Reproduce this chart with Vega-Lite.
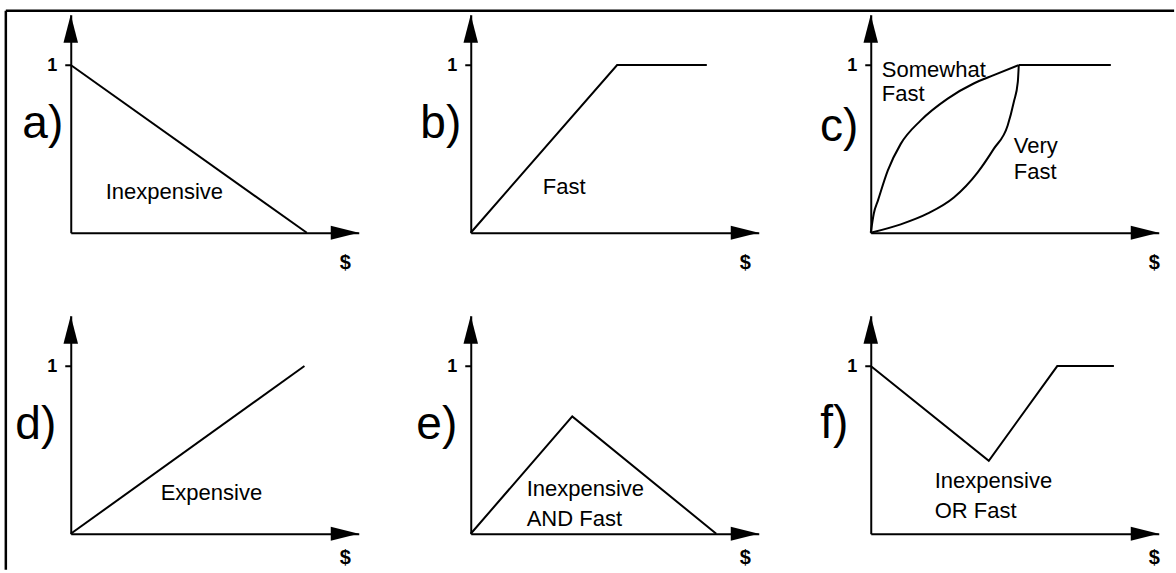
{
  "$schema": "https://vega.github.io/schema/vega-lite/v6.json",
  "background": "white",
  "padding": {"left": 3.75, "top": 8.75, "right": 0, "bottom": 0},
  "datasets": {
    "a": [
      {"series": "Inexpensive", "dollars": 0, "membership": 1},
      {"series": "Inexpensive", "dollars": 1.0, "membership": 0}
    ],
    "b": [
      {"series": "Fast", "dollars": 0, "membership": 0},
      {"series": "Fast", "dollars": 0.62, "membership": 1},
      {"series": "Fast", "dollars": 1.0, "membership": 1}
    ],
    "c": [
      {"series": "Somewhat Fast", "dollars": 0, "membership": 0},
      {"series": "Somewhat Fast", "dollars": 0.013, "membership": 0.115},
      {"series": "Somewhat Fast", "dollars": 0.03, "membership": 0.19},
      {"series": "Somewhat Fast", "dollars": 0.072, "membership": 0.37},
      {"series": "Somewhat Fast", "dollars": 0.127, "membership": 0.53},
      {"series": "Somewhat Fast", "dollars": 0.212, "membership": 0.67},
      {"series": "Somewhat Fast", "dollars": 0.326, "membership": 0.8},
      {"series": "Somewhat Fast", "dollars": 0.436, "membership": 0.89},
      {"series": "Somewhat Fast", "dollars": 0.521, "membership": 0.94},
      {"series": "Somewhat Fast", "dollars": 0.627, "membership": 1.0},
      {"series": "Very Fast", "dollars": 0, "membership": 0},
      {"series": "Very Fast", "dollars": 0.127, "membership": 0.05},
      {"series": "Very Fast", "dollars": 0.242, "membership": 0.115},
      {"series": "Very Fast", "dollars": 0.352, "membership": 0.21},
      {"series": "Very Fast", "dollars": 0.453, "membership": 0.36},
      {"series": "Very Fast", "dollars": 0.521, "membership": 0.5},
      {"series": "Very Fast", "dollars": 0.58, "membership": 0.64},
      {"series": "Very Fast", "dollars": 0.606, "membership": 0.78},
      {"series": "Very Fast", "dollars": 0.623, "membership": 0.9},
      {"series": "Very Fast", "dollars": 0.627, "membership": 1.0},
      {"series": "Fast plateau", "dollars": 0.627, "membership": 1.0},
      {"series": "Fast plateau", "dollars": 1.017, "membership": 1.0}
    ],
    "d": [
      {"series": "Expensive", "dollars": 0, "membership": 0},
      {"series": "Expensive", "dollars": 0.99, "membership": 1}
    ],
    "e": [
      {"series": "Inexpensive AND Fast", "dollars": 0, "membership": 0},
      {"series": "Inexpensive AND Fast", "dollars": 0.43, "membership": 0.7},
      {"series": "Inexpensive AND Fast", "dollars": 1.04, "membership": 0}
    ],
    "f": [
      {"series": "Inexpensive OR Fast", "dollars": 0, "membership": 1},
      {"series": "Inexpensive OR Fast", "dollars": 0.5, "membership": 0.435},
      {"series": "Inexpensive OR Fast", "dollars": 0.79, "membership": 1},
      {"series": "Inexpensive OR Fast", "dollars": 1.03, "membership": 1}
    ]
  },
  "columns": 3,
  "bounds": "flush",
  "spacing": {"row": 83, "column": 112},
  "concat": [
    {
      "width": 288, "height": 218,
      "layer": [
        {"data": {"name": "a"}, "mark": {"type": "line", "color": "black", "strokeWidth": 2},
         "encoding": {
           "x": {"field": "dollars", "type": "quantitative", "scale": {"domain": [0, 1.22], "nice": false},
                 "axis": {"title": "$", "ticks": false, "labels": false, "titleX": 274, "titleY": 30, "titleAlign": "center", "titleBaseline": "middle", "titleFontSize": 20, "titleFontWeight": "bold"}},
           "y": {"field": "membership", "type": "quantitative", "scale": {"domain": [0, 1.3], "nice": false},
                 "axis": {"values": [1], "format": "d", "tickSize": 6, "tickWidth": 2, "labelPadding": 8, "labelFontSize": 18, "labelFontWeight": "bold", "title": "a)", "titleAngle": 0, "titleAlign": "right", "titleBaseline": "alphabetic", "titleX": -8, "titleY": 123, "titleFontSize": 46, "titleFontWeight": "normal"}},
           "detail": {"field": "series"}
         }},
        {"data": {"values": [{}]}, "mark": {"type": "point", "shape": "M0,0L0.52,2L-0.52,2Z", "size": 784, "filled": true, "color": "black", "opacity": 1, "strokeWidth": 0}, "encoding": {"x": {"datum": 0}, "y": {"datum": 1.3}}},
        {"data": {"values": [{}]}, "mark": {"type": "point", "shape": "M0,0L-2,-0.5L-2,0.5Z", "size": 784, "filled": true, "color": "black", "opacity": 1, "strokeWidth": 0}, "encoding": {"x": {"datum": 1.22}, "y": {"datum": 0}}},
        {"data": {"values": [{}]}, "mark": {"type": "text"}, "encoding": {"x": {"datum": 0.148}, "y": {"datum": 0.203}, "text": {"value": "Inexpensive"}}},
        {"data": {"values": [{}]}, "mark": {"type": "rule", "strokeWidth": 2.5, "color": "black"}, "encoding": {"x": {"datum": -0.275}, "x2": {"datum": 4.674}, "y": {"datum": 1.324}}},
        {"data": {"values": [{}]}, "mark": {"type": "rule", "strokeWidth": 2.5, "color": "black"}, "encoding": {"x": {"datum": -0.275}, "y": {"datum": 1.324}, "y2": {"datum": -2.01}}}
      ]
    },
    {
      "width": 288, "height": 218,
      "layer": [
        {"data": {"name": "b"}, "mark": {"type": "line", "color": "black", "strokeWidth": 2},
         "encoding": {
           "x": {"field": "dollars", "type": "quantitative", "scale": {"domain": [0, 1.22], "nice": false},
                 "axis": {"title": "$", "ticks": false, "labels": false, "titleX": 274, "titleY": 30, "titleAlign": "center", "titleBaseline": "middle", "titleFontSize": 20, "titleFontWeight": "bold"}},
           "y": {"field": "membership", "type": "quantitative", "scale": {"domain": [0, 1.3], "nice": false},
                 "axis": {"values": [1], "format": "d", "tickSize": 6, "tickWidth": 2, "labelPadding": 8, "labelFontSize": 18, "labelFontWeight": "bold", "title": "b)", "titleAngle": 0, "titleAlign": "right", "titleBaseline": "alphabetic", "titleX": -10, "titleY": 123, "titleFontSize": 46, "titleFontWeight": "normal"}},
           "detail": {"field": "series"}
         }},
        {"data": {"values": [{}]}, "mark": {"type": "point", "shape": "M0,0L0.52,2L-0.52,2Z", "size": 784, "filled": true, "color": "black", "opacity": 1, "strokeWidth": 0}, "encoding": {"x": {"datum": 0}, "y": {"datum": 1.3}}},
        {"data": {"values": [{}]}, "mark": {"type": "point", "shape": "M0,0L-2,-0.5L-2,0.5Z", "size": 784, "filled": true, "color": "black", "opacity": 1, "strokeWidth": 0}, "encoding": {"x": {"datum": 1.22}, "y": {"datum": 0}}},
        {"data": {"values": [{}]}, "mark": {"type": "text"}, "encoding": {"x": {"datum": 0.305}, "y": {"datum": 0.233}, "text": {"value": "Fast"}}}
      ]
    },
    {
      "width": 288, "height": 218,
      "layer": [
        {"data": {"name": "c"}, "mark": {"type": "line", "color": "black", "strokeWidth": 2, "interpolate": "monotone"},
         "encoding": {
           "x": {"field": "dollars", "type": "quantitative", "scale": {"domain": [0, 1.22], "nice": false},
                 "axis": {"title": "$", "ticks": false, "labels": false, "titleX": 283, "titleY": 30, "titleAlign": "center", "titleBaseline": "middle", "titleFontSize": 20, "titleFontWeight": "bold"}},
           "y": {"field": "membership", "type": "quantitative", "scale": {"domain": [0, 1.3], "nice": false},
                 "axis": {"values": [1], "format": "d", "tickSize": 6, "tickWidth": 2, "labelPadding": 8, "labelFontSize": 18, "labelFontWeight": "bold", "title": "c)", "titleAngle": 0, "titleAlign": "right", "titleBaseline": "alphabetic", "titleX": -13, "titleY": 126, "titleFontSize": 46, "titleFontWeight": "normal"}},
           "detail": {"field": "series"}
         }},
        {"data": {"values": [{}]}, "mark": {"type": "point", "shape": "M0,0L0.52,2L-0.52,2Z", "size": 784, "filled": true, "color": "black", "opacity": 1, "strokeWidth": 0}, "encoding": {"x": {"datum": 0}, "y": {"datum": 1.3}}},
        {"data": {"values": [{}]}, "mark": {"type": "point", "shape": "M0,0L-2,-0.5L-2,0.5Z", "size": 784, "filled": true, "color": "black", "opacity": 1, "strokeWidth": 0}, "encoding": {"x": {"datum": 1.22}, "y": {"datum": 0}}},
        {"data": {"values": [{}]}, "mark": {"type": "text"}, "encoding": {"x": {"datum": 0.047}, "y": {"datum": 0.93}, "text": {"value": "Somewhat"}}},
        {"data": {"values": [{}]}, "mark": {"type": "text"}, "encoding": {"x": {"datum": 0.047}, "y": {"datum": 0.785}, "text": {"value": "Fast"}}},
        {"data": {"values": [{}]}, "mark": {"type": "text"}, "encoding": {"x": {"datum": 0.606}, "y": {"datum": 0.477}, "text": {"value": "Very"}}},
        {"data": {"values": [{}]}, "mark": {"type": "text"}, "encoding": {"x": {"datum": 0.606}, "y": {"datum": 0.322}, "text": {"value": "Fast"}}}
      ]
    },
    {
      "width": 288, "height": 218,
      "layer": [
        {"data": {"name": "d"}, "mark": {"type": "line", "color": "black", "strokeWidth": 2},
         "encoding": {
           "x": {"field": "dollars", "type": "quantitative", "scale": {"domain": [0, 1.22], "nice": false},
                 "axis": {"title": "$", "ticks": false, "labels": false, "titleX": 274, "titleY": 24, "titleAlign": "center", "titleBaseline": "middle", "titleFontSize": 20, "titleFontWeight": "bold"}},
           "y": {"field": "membership", "type": "quantitative", "scale": {"domain": [0, 1.3], "nice": false},
                 "axis": {"values": [1], "format": "d", "tickSize": 6, "tickWidth": 2, "labelPadding": 8, "labelFontSize": 18, "labelFontWeight": "bold", "title": "d)", "titleAngle": 0, "titleAlign": "right", "titleBaseline": "alphabetic", "titleX": -15, "titleY": 123, "titleFontSize": 46, "titleFontWeight": "normal"}},
           "detail": {"field": "series"}
         }},
        {"data": {"values": [{}]}, "mark": {"type": "point", "shape": "M0,0L0.52,2L-0.52,2Z", "size": 784, "filled": true, "color": "black", "opacity": 1, "strokeWidth": 0}, "encoding": {"x": {"datum": 0}, "y": {"datum": 1.3}}},
        {"data": {"values": [{}]}, "mark": {"type": "point", "shape": "M0,0L-2,-0.5L-2,0.5Z", "size": 784, "filled": true, "color": "black", "opacity": 1, "strokeWidth": 0}, "encoding": {"x": {"datum": 1.22}, "y": {"datum": 0}}},
        {"data": {"values": [{}]}, "mark": {"type": "text"}, "encoding": {"x": {"datum": 0.381}, "y": {"datum": 0.203}, "text": {"value": "Expensive"}}}
      ]
    },
    {
      "width": 288, "height": 218,
      "layer": [
        {"data": {"name": "e"}, "mark": {"type": "line", "color": "black", "strokeWidth": 2},
         "encoding": {
           "x": {"field": "dollars", "type": "quantitative", "scale": {"domain": [0, 1.22], "nice": false},
                 "axis": {"title": "$", "ticks": false, "labels": false, "titleX": 274, "titleY": 24, "titleAlign": "center", "titleBaseline": "middle", "titleFontSize": 20, "titleFontWeight": "bold"}},
           "y": {"field": "membership", "type": "quantitative", "scale": {"domain": [0, 1.3], "nice": false},
                 "axis": {"values": [1], "format": "d", "tickSize": 6, "tickWidth": 2, "labelPadding": 8, "labelFontSize": 18, "labelFontWeight": "bold", "title": "e)", "titleAngle": 0, "titleAlign": "right", "titleBaseline": "alphabetic", "titleX": -14, "titleY": 123, "titleFontSize": 46, "titleFontWeight": "normal"}},
           "detail": {"field": "series"}
         }},
        {"data": {"values": [{}]}, "mark": {"type": "point", "shape": "M0,0L0.52,2L-0.52,2Z", "size": 784, "filled": true, "color": "black", "opacity": 1, "strokeWidth": 0}, "encoding": {"x": {"datum": 0}, "y": {"datum": 1.3}}},
        {"data": {"values": [{}]}, "mark": {"type": "point", "shape": "M0,0L-2,-0.5L-2,0.5Z", "size": 784, "filled": true, "color": "black", "opacity": 1, "strokeWidth": 0}, "encoding": {"x": {"datum": 1.22}, "y": {"datum": 0}}},
        {"data": {"values": [{}]}, "mark": {"type": "text"}, "encoding": {"x": {"datum": 0.237}, "y": {"datum": 0.227}, "text": {"value": "Inexpensive"}}},
        {"data": {"values": [{}]}, "mark": {"type": "text"}, "encoding": {"x": {"datum": 0.237}, "y": {"datum": 0.048}, "text": {"value": "AND Fast"}}}
      ]
    },
    {
      "width": 288, "height": 218,
      "layer": [
        {"data": {"name": "f"}, "mark": {"type": "line", "color": "black", "strokeWidth": 2},
         "encoding": {
           "x": {"field": "dollars", "type": "quantitative", "scale": {"domain": [0, 1.22], "nice": false},
                 "axis": {"title": "$", "ticks": false, "labels": false, "titleX": 283, "titleY": 24, "titleAlign": "center", "titleBaseline": "middle", "titleFontSize": 20, "titleFontWeight": "bold"}},
           "y": {"field": "membership", "type": "quantitative", "scale": {"domain": [0, 1.3], "nice": false},
                 "axis": {"values": [1], "format": "d", "tickSize": 6, "tickWidth": 2, "labelPadding": 8, "labelFontSize": 18, "labelFontWeight": "bold", "title": "f)", "titleAngle": 0, "titleAlign": "right", "titleBaseline": "alphabetic", "titleX": -23, "titleY": 122, "titleFontSize": 46, "titleFontWeight": "normal"}},
           "detail": {"field": "series"}
         }},
        {"data": {"values": [{}]}, "mark": {"type": "point", "shape": "M0,0L0.52,2L-0.52,2Z", "size": 784, "filled": true, "color": "black", "opacity": 1, "strokeWidth": 0}, "encoding": {"x": {"datum": 0}, "y": {"datum": 1.3}}},
        {"data": {"values": [{}]}, "mark": {"type": "point", "shape": "M0,0L-2,-0.5L-2,0.5Z", "size": 784, "filled": true, "color": "black", "opacity": 1, "strokeWidth": 0}, "encoding": {"x": {"datum": 1.22}, "y": {"datum": 0}}},
        {"data": {"values": [{}]}, "mark": {"type": "text"}, "encoding": {"x": {"datum": 0.271}, "y": {"datum": 0.274}, "text": {"value": "Inexpensive"}}},
        {"data": {"values": [{}]}, "mark": {"type": "text"}, "encoding": {"x": {"datum": 0.271}, "y": {"datum": 0.095}, "text": {"value": "OR Fast"}}}
      ]
    }
  ],
  "config": {
    "view": {"stroke": null},
    "font": "Liberation Sans",
    "axis": {"grid": false, "domainColor": "#000000", "domainWidth": 2, "tickColor": "#000000", "labelColor": "#000000", "titleColor": "#000000", "labelFont": "Liberation Sans", "titleFont": "Liberation Sans"},
    "text": {"font": "Liberation Sans", "fontSize": 22, "align": "left", "baseline": "alphabetic", "color": "#000000"}
  }
}
